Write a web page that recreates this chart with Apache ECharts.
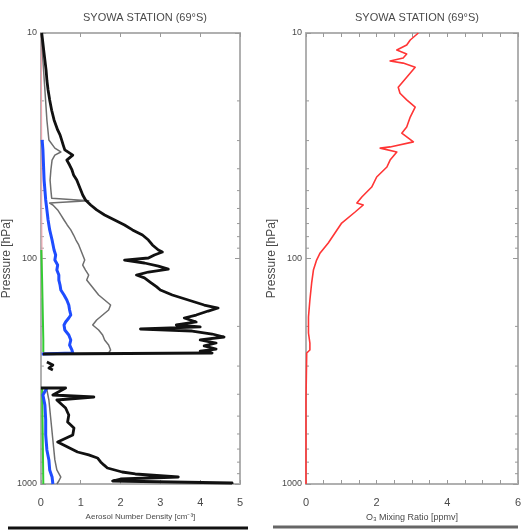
<!DOCTYPE html>
<html>
<head>
<meta charset="utf-8">
<script src="https://cdn.jsdelivr.net/npm/echarts@6/dist/echarts.min.js"></script>
<style>html,body{margin:0;padding:0;background:#fff}#c{width:527px;height:532px}</style>
</head>
<body>
<div id="c"></div>
<script>
// ---------- DATA (pressure in hPa) ----------
const titleText = 'SYOWA STATION (69°S)';
const leftXTicks = [0, 1, 2, 3, 4, 5];
const rightXTicks = [0, 2, 4, 6];
const yTicks = [10, 100, 1000];
const minorTickP = [20, 30, 40, 50, 60, 70, 80, 90, 200, 300, 400, 500, 600, 700, 800, 900];

// Black (largest aerosol number density)
const blackP = [10, 10.7, 11.9, 13.2, 14.6, 16.2, 17.9, 19.8, 22.0, 24.3, 26.9, 28.3, 29.8, 31.4, 33.0, 34.8, 36.6, 38.5, 40.5, 42.6,
  44.9, 47.2, 49.7, 52.3, 55.0, 57.9, 60.9, 64.1, 67.5, 71.0, 74.7, 78.7, 82.8, 87.1, 91.7, 93.6, 96.5, 99.5, 101.6, 104.7,
  108.0, 111.4, 114.8, 118.4, 121.9, 127.5, 133.2, 138.0, 145.2, 152.8, 160.8, 165.8, 171.0, 178.1, 183.6, 191.2, 197.2, 201.2, 205.4, 209.7,
  216.2, 222.9, 229.8, 237.0, 244.3, 252.0, 257.2, 262.5, 265.2, null,
  287.7, 296.7, 305.9, 312.2, null,
  375.2, 375.2, 403.0, 411.4, 424.1, 432.8, 460.2, 494.2, 530.9, 564.5, 606.1, 651.0, 685.3, 721.3, 743.3, 766.6, 798.7, 823.1, 849.1, 884.7,
  902.8, 931.1, 950.3, 970.0, 989.9, 1000];
const blackV = [0.02, 0.04, 0.07, 0.10, 0.13, 0.15, 0.18, 0.22, 0.27, 0.33, 0.42, 0.48, 0.52, 0.56, 0.60, 0.80, 0.65, 0.72, 0.78, 0.82,
  0.90, 0.95, 1.00, 1.05, 1.12, 1.25, 1.40, 1.60, 1.85, 2.10, 2.30, 2.55, 2.70, 2.80, 2.95, 3.05, 2.85, 2.70, 2.10, 2.60,
  2.95, 3.20, 2.70, 2.40, 2.60, 2.75, 2.90, 3.00, 3.30, 3.70, 4.10, 4.45, 4.20, 3.90, 3.60, 3.90, 3.40, 4.00, 2.50, 3.80,
  4.30, 4.60, 4.00, 4.40, 4.10, 4.40, 4.00, 4.30, 0.05, null,
  0.15, 0.30, 0.20, 0.30, null,
  0.00, 0.62, 0.30, 1.33, 0.40, 0.45, 0.62, 0.70, 0.67, 0.83, 0.80, 0.42, 0.67, 0.92, 1.20, 1.42, 1.50, 1.58, 1.67, 2.04,
  2.37, 3.45, 2.00, 1.80, 4.80, 4.80];

// Gray
const grayP = [10, 13.2, 17.9, 24.3, 29.8, 32.4, 33.7, 34.8, 36.6, 40.5, 44.9, 49.7, 54.0, 55.5, 56.8, 57.9, 60.9, 64.1, 67.5, 71.0,
  74.7, 78.7, 82.8, 87.1, 91.7, 96.5, 101.6, 106.9, 112.5, 118.4, 124.6, 131.1, 138.0, 145.2, 152.8, 160.8, 169.2, 178.1, 187.4, 197.2,
  207.6, 218.4, 229.8, 241.9, 254.6, 262.5, 265.2, null,
  382.9, 424.1, 520.1, 637.8, 782.2, 866.2, 931.1, 970.0, 1000];
const grayV = [0.01, 0.05, 0.10, 0.15, 0.20, 0.35, 0.50, 0.35, 0.28, 0.25, 0.23, 0.25, 0.27, 1.20, 0.22, 0.30, 0.42, 0.50, 0.58, 0.66,
  0.75, 0.82, 0.88, 0.95, 1.00, 1.05, 1.10, 1.05, 1.12, 1.20, 1.15, 1.25, 1.35, 1.45, 1.60, 1.75, 1.70, 1.55, 1.40, 1.30,
  1.45, 1.55, 1.60, 1.70, 1.75, 1.70, 0.05, null,
  0.15, 0.20, 0.25, 0.30, 0.35, 0.40, 0.50, 0.45, 0.40];

// Blue
const blueP = [29.8, 33.0, 44.9, 55.0, 60.9, 67.5, 74.7, 82.8, 91.7, 96.5, 101.6, 106.9, 112.5, 118.4, 124.6, 131.1, 138.0, 145.2, 152.8, 160.8,
  169.2, 178.1, 183.6, 191.2, 197.2, 207.6, 218.4, 229.8, 241.9, 254.6, 262.5, 265.2, null,
  375.2, 403.0, 446.3, 520.1, 606.1, 706.3, 782.2, 866.2, 931.1, 1000];
const blueV = [0.03, 0.05, 0.08, 0.12, 0.15, 0.18, 0.22, 0.28, 0.33, 0.37, 0.35, 0.42, 0.40, 0.45, 0.45, 0.48, 0.50, 0.58, 0.65, 0.70,
  0.72, 0.75, 0.70, 0.62, 0.58, 0.60, 0.70, 0.75, 0.72, 0.78, 0.80, 0.02, null,
  0.15, 0.05, 0.10, 0.12, 0.12, 0.15, 0.20, 0.22, 0.28, 0.30];

// Green
const greenP = [91.7, 124.6, 152.8, 187.4, 229.8, 259.8, null, 375.2, 520.1, 706.3, 1000];
const greenV = [0.01, 0.03, 0.04, 0.05, 0.06, 0.06, null, 0.03, 0.04, 0.05, 0.06];

// Pink
const pinkP = [10, 30, 60, 100, 150];
const pinkV = [0.01, 0.02, 0.02, 0.03, 0.02];

// Ozone mixing ratio (ppmv)
const o3P = [10, 10.74, 11.3, 11.9, 12.4, 12.9, 13.3, 13.6, 14.2, 15.7, 17.4, 18.5, 19.8, 21.3, 23.6, 26.1, 27.8, 30.4, 32.0, 32.4,
  33.7, 36.6, 39.3, 43.5, 48.2, 53.4, 56.8, 57.9, 62.2, 69.6, 77.1, 85.4, 94.5, 101.6, 112.5, 128.4, 152.8, 181.7, 214, 237,
  254.6, 262.5, 424, 1000];
const o3V = [3.18, 2.95, 2.85, 2.57, 2.85, 2.75, 2.38, 2.75, 3.09, 2.85, 2.61, 2.66, 2.85, 3.09, 2.95, 2.85, 2.71, 3.04, 2.38, 2.10,
  2.57, 2.38, 2.29, 2.00, 1.86, 1.58, 1.44, 1.62, 1.39, 1.01, 0.82, 0.63, 0.40, 0.30, 0.21, 0.16, 0.11, 0.07, 0.07, 0.11,
  0.11, 0.02, 0.00, 0.00];

// ---------- BUILD ----------
function pairs(v, p) { return v.map((x, i) => (x === null ? ['-', '-'] : [x, p[i]])); }

const FONT = 'Liberation Sans, Arial, sans-serif';
const TXT = '#4a4a4a';
const AX = '#b0b0b0';

function xAxes(gridIndex, max, interval, labelSet, name, nameSize) {
  return [
    {
      type: 'value', gridIndex, min: 0, max, interval, position: 'bottom',
      axisLine: { show: true, onZero: false, lineStyle: { color: AX, width: 2 } },
      axisTick: { show: true, inside: true, length: 4, lineStyle: { color: '#999' } },
      axisLabel: { color: TXT, fontSize: 11, fontFamily: FONT, margin: 13,
        formatter: v => (labelSet.indexOf(v) >= 0 ? String(v) : '') },
      splitLine: { show: false },
      name, nameLocation: 'middle', nameGap: 27,
      nameTextStyle: { color: TXT, fontSize: nameSize, fontFamily: FONT }
    },
    {
      type: 'value', gridIndex, min: 0, max, interval, position: 'top',
      axisLine: { show: true, onZero: false, lineStyle: { color: AX, width: 2 } },
      axisTick: { show: true, inside: true, length: 4, lineStyle: { color: '#999' } },
      axisLabel: { show: false }, splitLine: { show: false }
    }
  ];
}
function yAxes(gridIndex) {
  return [
    {
      type: 'log', logBase: 10, gridIndex, min: 10, max: 1000, inverse: true, position: 'left',
      axisLine: { show: true, onZero: false, lineStyle: { color: AX, width: 2 } },
      axisTick: { show: true, inside: true, length: 5, lineStyle: { color: '#999' } },
      axisLabel: { color: TXT, fontSize: 9, fontFamily: FONT, margin: 4,
        formatter: v => (yTicks.indexOf(Math.round(v)) >= 0 ? String(Math.round(v)) : '') },
      splitLine: { show: false },
      name: 'Pressure [hPa]', nameLocation: 'middle', nameGap: 22, nameRotate: 90,
      nameTextStyle: { color: TXT, fontSize: 12, fontFamily: FONT }
    },
    {
      type: 'log', logBase: 10, gridIndex, min: 10, max: 1000, inverse: true, position: 'right',
      axisLine: { show: true, onZero: false, lineStyle: { color: AX, width: 2 } },
      axisTick: { show: true, inside: true, length: 5, lineStyle: { color: '#999' } },
      axisLabel: { show: false }, splitLine: { show: false }
    }
  ];
}

function minorTicks(xi, yi, xMax) {
  return {
    type: 'custom', xAxisIndex: xi, yAxisIndex: yi, silent: true, z: 1,
    data: minorTickP.map(p => [0, p]),
    renderItem: function (params, api) {
      const a = api.coord([0, api.value(1)]);
      const b = api.coord([xMax, api.value(1)]);
      const st = { stroke: '#999', lineWidth: 1 };
      return { type: 'group', children: [
        { type: 'line', shape: { x1: a[0], y1: a[1], x2: a[0] + 3, y2: a[1] }, style: st },
        { type: 'line', shape: { x1: b[0], y1: b[1], x2: b[0] - 3, y2: b[1] }, style: st }
      ] };
    }
  };
}

function line(xi, yi, data, color, width, z) {
  return { type: 'line', xAxisIndex: xi, yAxisIndex: yi, data, showSymbol: false, symbol: 'none',
    connectNulls: false, smooth: false, z, lineStyle: { color, width, join: 'round' }, silent: true };
}

const option = {
  animation: false,
  backgroundColor: '#fff',
  title: [
    { text: titleText, left: 140, top: 7, textAlign: 'center',
      textStyle: { color: TXT, fontSize: 11, fontWeight: 'normal', fontFamily: FONT } },
    { text: titleText, left: 412, top: 7, textAlign: 'center',
      textStyle: { color: TXT, fontSize: 11, fontWeight: 'normal', fontFamily: FONT } }
  ],
  grid: [
    { left: 40, right: 287, top: 33, bottom: 48 },
    { left: 306, right: 9, top: 33, bottom: 48 }
  ],
  xAxis: [
    ...xAxes(0, 5, 1, leftXTicks, 'Aerosol Number Density [cm⁻³]', 8),
    ...xAxes(1, 6, 0.5, rightXTicks, 'O₃ Mixing Ratio [ppmv]', 9)
  ],
  yAxis: [...yAxes(0), ...yAxes(1)],
  series: [
    minorTicks(0, 0, 5),
    minorTicks(2, 2, 6),
    line(0, 0, pairs(pinkV, pinkP), '#f5a5b0', 1, 2),
    line(0, 0, pairs(greenV, greenP), '#33cc33', 2, 3),
    line(0, 0, pairs(grayV, grayP), '#6e6e6e', 1.5, 4),
    line(0, 0, pairs(blueV, blueP), '#1f4dff', 3, 5),
    line(0, 0, pairs(blackV, blackP), '#111111', 2.8, 6),
    line(2, 2, pairs(o3V, o3P), '#ff3535', 1.6, 6)
  ],
  graphic: [
    { type: 'line', shape: { x1: 8, y1: 528, x2: 248, y2: 528 }, style: { stroke: '#111', lineWidth: 3 } },
    { type: 'line', shape: { x1: 273, y1: 527, x2: 518, y2: 527 }, style: { stroke: '#666', lineWidth: 3 } }
  ]
};

const chart = echarts.init(document.getElementById('c'), null, { renderer: 'canvas' });
chart.setOption(option);
</script>
</body>
</html>
